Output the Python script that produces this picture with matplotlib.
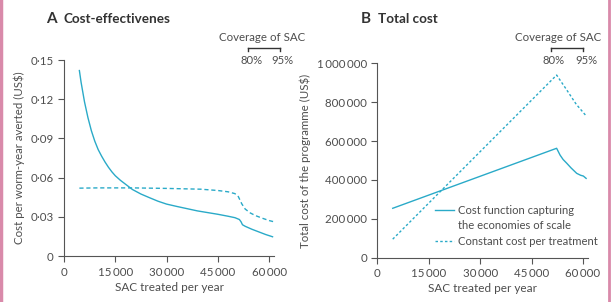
import matplotlib.pyplot as plt
from matplotlib.lines import Line2D
from matplotlib.ticker import FuncFormatter
from matplotlib.transforms import blended_transform_factory

plt.rcParams['font.family'] = ['Lato', 'DejaVu Sans']
plt.rcParams['font.size'] = 8

# panel A - cost per worm-year averted
sac_a_solid = [4500, 5000, 6000, 7000, 8000, 9000, 10000, 11000, 12000, 13000, 14000,
               15000, 16500, 18000, 20000, 22500, 25000, 27500, 30000, 33000, 36000,
               39000, 42000, 45000, 48000, 50000, 51300, 51800, 52200, 53000, 55000,
               57000, 59000, 61000]
cost_a_solid = [0.142, 0.133, 0.118, 0.106, 0.096, 0.088, 0.0815, 0.0765, 0.072, 0.068,
                0.0645, 0.0615, 0.058, 0.0550, 0.0510, 0.0475, 0.0447, 0.0420, 0.0398,
                0.0380, 0.0363, 0.0346, 0.0333, 0.0320, 0.0305, 0.0294, 0.0280, 0.0262,
                0.0240, 0.0228, 0.0205, 0.0185, 0.0165, 0.0148]
sac_a_dash = [4500, 10000, 20000, 30000, 40000, 45000, 48000, 50000, 51000, 52000,
              53000, 54500, 56000, 58000, 60000, 61500]
cost_a_dash = [0.052, 0.0522, 0.0522, 0.0518, 0.0512, 0.0502, 0.0492, 0.0478, 0.0455,
               0.0400, 0.0360, 0.0330, 0.0310, 0.0290, 0.0272, 0.0262]

# panel B - total cost of the programme
sac_b_solid = [4500, 52300, 53300, 54200, 55250, 56500, 58150, 59300, 60100, 60900]
cost_b_solid = [254000, 563000, 528000, 505000, 486000, 462000, 434000, 424000, 420000, 408000]
sac_b_dash = [4500, 52300, 55000, 58000, 60900]
cost_b_dash = [95000, 940000, 870000, 790000, 730000]

xticks = [0, 15000, 30000, 45000, 60000]
yticks_a = [0, 0.03, 0.06, 0.09, 0.12, 0.15]
yticks_b = [0, 200000, 400000, 600000, 800000, 1000000]
coverage_labels = ['80%', '95%']

col = '#2aaac8'
txt = '#4d4d4d'


def thou(v, pos):
    if v == 0:
        return '0'
    s = f'{int(v):,}'
    return s.replace(',', '\u2009')


def dotdec(v, pos):
    if v == 0:
        return '0'
    return f'{v:.2f}'.replace('.', '\u00b7')


fig = plt.figure(figsize=(6.13, 3.02), dpi=100)
axA = fig.add_axes([0.1044, 0.152, 0.343, 0.649])
axB = fig.add_axes([0.6155, 0.147, 0.344, 0.643])

for ax in (axA, axB):
    ax.spines['top'].set_visible(False)
    ax.spines['right'].set_visible(False)
    ax.spines['left'].set_color('#555555')
    ax.spines['bottom'].set_color('#555555')
    ax.tick_params(colors='#555555', labelcolor=txt, length=4, width=0.8, labelsize=8.3)
    ax.set_xlim(0, 61500)
    ax.set_xticks(xticks)
    ax.xaxis.set_major_formatter(FuncFormatter(thou))
    ax.set_xlabel('SAC treated per year', color=txt, fontsize=8.5, labelpad=3)

axA.plot(sac_a_solid, cost_a_solid, color=col, lw=1)
axA.plot(sac_a_dash, cost_a_dash, color=col, lw=1, ls=(0, (3, 2)))
axA.set_ylim(0, 0.15)
axA.set_yticks(yticks_a)
axA.yaxis.set_major_formatter(FuncFormatter(dotdec))
axA.set_ylabel('Cost per worm-year averted (US$)', color=txt, fontsize=8.3, labelpad=4)

axB.plot(sac_b_solid, cost_b_solid, color=col, lw=1)
axB.plot(sac_b_dash, cost_b_dash, color=col, lw=1, ls=(0, (1.8, 1.6)))
axB.set_ylim(0, 1000000)
axB.set_yticks(yticks_b)
axB.yaxis.set_major_formatter(FuncFormatter(thou))
axB.set_ylabel('Total cost of the programme (US$)', color=txt, fontsize=8.3, labelpad=4)

# legend drawn by hand so the handle sits on the first text line
axB.plot([0.275, 0.362], [0.245, 0.245], transform=axB.transAxes, color=col, lw=1)
axB.plot([0.275, 0.362], [0.083, 0.083], transform=axB.transAxes, color=col, lw=1,
         ls=(0, (1.8, 1.6)))
axB.text(0.384, 0.245, 'Cost function capturing', transform=axB.transAxes,
         va='center', color=txt, fontsize=8.1)
axB.text(0.384, 0.163, 'the economies of scale', transform=axB.transAxes,
         va='center', color=txt, fontsize=8.1)
axB.text(0.384, 0.083, 'Constant cost per treatment', transform=axB.transAxes,
         va='center', color=txt, fontsize=8.1)

# coverage brackets (x in axes fraction, y in figure fraction)
brackets = {axA: ((0.876, 1.027), (0.894, 1.041), 0.940),
            axB: ((0.822, 0.974), (0.838, 0.990), 0.859)}
for ax, (bx, lx, tx) in brackets.items():
    tr = blended_transform_factory(ax.transAxes, fig.transFigure)
    ax.add_line(Line2D(bx, [0.842, 0.842], color='#333333', lw=1, transform=tr,
                       clip_on=False))
    for xb in bx:
        ax.add_line(Line2D([xb, xb], [0.842, 0.830], color='#333333', lw=1,
                           transform=tr, clip_on=False))
    for xl, lab in zip(lx, coverage_labels):
        ax.text(xl, 0.801, lab, transform=tr, ha='center', va='center', color=txt,
                fontsize=8.1, clip_on=False)
    ax.text(tx, 0.875, 'Coverage of SAC', transform=tr, ha='center', va='center',
            color=txt, fontsize=8.3, clip_on=False)

fig.text(0.0745, 0.937, 'A', fontweight='bold', fontsize=11, color='#333333', va='center')
fig.text(0.103, 0.937, 'Cost-effectivenes', fontweight='bold', fontsize=9.7,
         color='#333333', va='center')
fig.text(0.589, 0.937, 'B', fontweight='bold', fontsize=11, color='#333333', va='center')
fig.text(0.617, 0.937, 'Total cost', fontweight='bold', fontsize=9.7,
         color='#333333', va='center')

# pink page edges
fig.add_artist(Line2D([0.002, 0.002], [0, 1], color='#d98aaa', lw=2.5,
                      transform=fig.transFigure))
fig.add_artist(Line2D([0.993, 0.993], [0, 1], color='#d98aaa', lw=2,
                      transform=fig.transFigure))

fig.savefig('out.png', dpi=100)
